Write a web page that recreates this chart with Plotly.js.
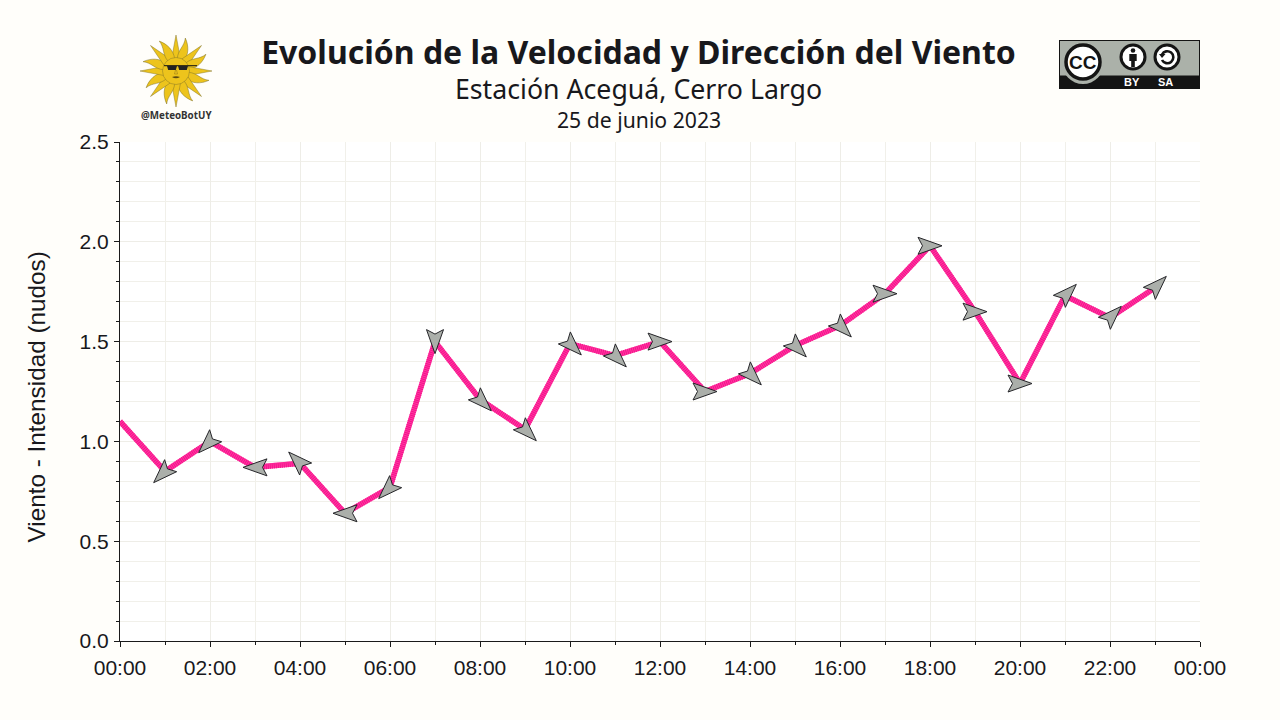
<!DOCTYPE html>
<html>
<head>
<meta charset="utf-8">
<script src="https://cdn.plot.ly/plotly-3.0.1.min.js"></script>
<style>
  html, body { margin: 0; padding: 0; background: #fffefa; }
</style>
</head>
<body>
<div id="chart" style="width:1280px;height:720px"></div>
<script>
const horas = [
    "2023-06-25 00:00", "2023-06-25 01:00", "2023-06-25 02:00", "2023-06-25 03:00",
    "2023-06-25 04:00", "2023-06-25 05:00", "2023-06-25 06:00", "2023-06-25 07:00",
    "2023-06-25 08:00", "2023-06-25 09:00", "2023-06-25 10:00", "2023-06-25 11:00",
    "2023-06-25 12:00", "2023-06-25 13:00", "2023-06-25 14:00", "2023-06-25 15:00",
    "2023-06-25 16:00", "2023-06-25 17:00", "2023-06-25 18:00", "2023-06-25 19:00",
    "2023-06-25 20:00", "2023-06-25 21:00", "2023-06-25 22:00", "2023-06-25 23:00"
]
const velocidad = [
    1.10, 0.85, 1.00, 0.87, 0.89, 0.64, 0.77, 1.50, 1.21, 1.06, 1.49, 1.43,
    1.50, 1.25, 1.34, 1.48, 1.58, 1.74, 1.98, 1.65, 1.29, 1.73, 1.62, 1.77
]
// hacia donde apunta la flecha, grados desde el norte (la primera hora no tiene flecha)
const direccion = [
    null, 225, 225, 270, 315, 270, 225, 180, 135, 135, 135, 135,
    90, 90, 135, 135, 135, 90, 90, 90, 90, 45, 45, 45
]
const rangoX = ["2023-06-25 00:00", "2023-06-26 00:00"]
const rangoY = [0, 2.5]

const PLOT = { l: 120, t: 142, w: 1080, h: 499 }
const TEXTO = "#18181c"
const FUENTE_TITULO = "Noto Sans"

function pxX(px) { return (px - PLOT.l) / PLOT.w }
function pxY(py) { return 1 - (py - PLOT.t) / PLOT.h }

// flecha con muesca, en pixeles alrededor del punto
// las diagonales van un poco corridas hacia adelante, como en el original
function pathFlecha(grados) {
    const a = grados * Math.PI / 180
    const corrimiento = Math.abs(Math.sin(2 * a)) * 4
    const forma = [[0, 12], [-8.5, -12], [0, -7.5], [8.5, -12]]
    const pts = forma.map(([lado, frente]) => {
        const f = frente + corrimiento
        const x = lado * Math.cos(a) + f * Math.sin(a)
        const y = -lado * Math.sin(a) + f * Math.cos(a)
        return x.toFixed(2) + "," + y.toFixed(2)
    })
    return "M" + pts.join("L") + "Z"
}

const flechas = []
horas.forEach((h, i) => {
    if (direccion[i] === null) return
    flechas.push({
        type: "path",
        xref: "x",
        yref: "y",
        xsizemode: "pixel",
        ysizemode: "pixel",
        xanchor: h,
        yanchor: velocidad[i],
        path: pathFlecha(direccion[i]),
        fillcolor: "#abafaa",
        line: { color: "#26262a", width: 1 },
        layer: "above",
    })
})

function svgUri(w, h, cuerpo) {
    const svg = '<svg xmlns="http://www.w3.org/2000/svg" width="' + w + '" height="' + h +
        '" viewBox="0 0 ' + w + ' ' + h + '">' + cuerpo + '</svg>'
    return "data:image/svg+xml;charset=utf-8," + encodeURIComponent(svg)
}

// sol de la bandera con lentes
function svgSol() {
    let rayos = ""
    for (let i = 0; i < 16; i++) {
        const g = i * 22.5
        if (i % 2 === 0) {
            rayos += '<path transform="rotate(' + g + ' 40 40)" d="M35.5,28 L40,4 L44.5,28 Z"/>'
        } else {
            rayos += '<path transform="rotate(' + g + ' 40 40)" d="M36.5,28 C33.5,20 38.5,14 36,6 C42.5,12 45.5,20 43.5,28 Z"/>'
        }
    }
    return '<g fill="#edc41c" stroke="#7d7028" stroke-width="0.45">' + rayos +
        '<circle cx="40" cy="40" r="13.5"/></g>' +
        '<path d="M28,34.7 H61" fill="none" stroke="#111" stroke-width="1"/>' +
        '<path d="M31,35 h10 l-1.2,4 h-7.6 z M42,35 h10 l-1.2,4 h-7.6 z" fill="#222"/>' +
        '<path d="M36,46 Q40,44.5 44,46 Q40,48.5 36,46 Z" fill="#5c4a10"/>' +
        '<path d="M39.5,39 L38.5,43 H41.5 L40.5,39" fill="none" stroke="#8a6f14" stroke-width="0.5"/>'
}

// insignia CC BY-SA, sin letras (van como anotaciones)
function svgInsignia() {
    const icono = (cx, interior) =>
        '<circle cx="' + cx + '" cy="17" r="12" fill="#fff" stroke="#141414" stroke-width="3"/>' + interior
    return '<rect x="0.5" y="0.5" width="140" height="48" fill="#abb1a9" stroke="#141414"/>' +
        '<rect x="0" y="35.5" width="141" height="13.5" fill="#141414"/>' +
        '<circle cx="24" cy="23" r="21" fill="#abb1a9"/>' +
        '<circle cx="24" cy="22" r="17" fill="#fff" stroke="#141414" stroke-width="3.5"/>' +
        icono(74, '<circle cx="74" cy="10.5" r="2.3" fill="#141414"/>' +
            '<path d="M70.3,14 H77.7 V21 H75.8 V27 H72.2 V21 H70.3 Z" fill="#141414"/>') +
        icono(108, '<path d="M103,14.5 A6,6 0 1 1 103,20" fill="none" stroke="#141414" stroke-width="2.6"/>' +
            '<path d="M100,14 L106.5,14 L103,18 Z" fill="#141414"/>')
}

function nota(px, py, texto, family, size, color, bold) {
    return {
        xref: "paper",
        yref: "paper",
        x: pxX(px),
        y: pxY(py),
        xanchor: "center",
        yanchor: "middle",
        showarrow: false,
        text: bold ? "<b>" + texto + "</b>" : texto,
        font: { family: family, size: size, color: color },
    }
}

const traces = [
    {
        type: "scatter",
        mode: "lines",
        x: horas,
        y: velocidad,
        hoverinfo: "x+y",
        line: { color: "#ff3aa0", width: 5.5 },
        showlegend: false,
    },
    {
        // rayado fino de la linea
        type: "scatter",
        mode: "lines",
        x: horas,
        y: velocidad,
        hoverinfo: "skip",
        line: { color: "#f5108c", width: 5.5, dash: "1px,1px" },
        showlegend: false,
    },
]

const layout = {
    width: 1280,
    height: 720,
    paper_bgcolor: "#fffefa",
    plot_bgcolor: "#ffffff",
    margin: { l: PLOT.l, r: 80, t: PLOT.t, b: 720 - PLOT.t - PLOT.h, pad: 0 },
    showlegend: false,
    title: {
        text: "<b>Evolución de la Velocidad y Dirección del Viento</b>",
        font: { family: FUENTE_TITULO, size: 32, color: TEXTO },
        x: 638.5 / 1280,
        xref: "container",
        xanchor: "center",
        y: 1 - 53 / 720,
        yref: "container",
        yanchor: "middle",
    },
    xaxis: {
        type: "date",
        range: rangoX,
        dtick: 7200000,
        tickformat: "%H:%M",
        ticks: "outside",
        ticklen: 5,
        tickcolor: "#1a1a1a",
        ticklabelstandoff: 3,
        tickfont: { family: "Liberation Sans", size: 21, color: TEXTO },
        showline: true,
        linecolor: "#1a1a1a",
        linewidth: 1,
        showgrid: true,
        gridcolor: "#eeede7",
        zeroline: false,
        minor: {
            dtick: 3600000,
            ticks: "outside",
            ticklen: 3,
            tickcolor: "#1a1a1a",
            showgrid: true,
            gridcolor: "#f1f0ea",
        },
    },
    yaxis: {
        range: rangoY,
        dtick: 0.5,
        tickformat: ".1f",
        ticks: "outside",
        ticklen: 5,
        tickcolor: "#1a1a1a",
        ticklabelstandoff: 1,
        tickfont: { family: "Liberation Sans", size: 21, color: TEXTO },
        showline: true,
        linecolor: "#1a1a1a",
        linewidth: 1,
        showgrid: true,
        gridcolor: "#eeede7",
        zeroline: false,
        minor: {
            dtick: 0.1,
            ticks: "outside",
            ticklen: 3,
            tickcolor: "#1a1a1a",
            showgrid: true,
            gridcolor: "#f1f0ea",
        },
    },
    shapes: flechas,
    annotations: [
        nota(638.5, 88, "Estación Aceguá, Cerro Largo", FUENTE_TITULO, 26.7, TEXTO),
        nota(639, 120, "25 de junio 2023", FUENTE_TITULO, 21.2, TEXTO),
        nota(176, 115, "@MeteoBotUY", FUENTE_TITULO, 9.8, "#333333", true),
        nota(1083, 62.5, "CC", "Liberation Sans", 19, "#141414", true),
        nota(1132, 82, "BY", "Liberation Sans", 11, "#ffffff", true),
        nota(1165.5, 82, "SA", "Liberation Sans", 11, "#ffffff", true),
        // titulo del eje y: va aparte porque no esta centrado en el eje
        Object.assign(nota(36, 397.5, "Viento - Intensidad (nudos)", "Liberation Sans", 24.3, TEXTO), { textangle: -90 }),
    ],
    images: [
        {
            source: svgUri(80, 80, svgSol()),
            xref: "paper", yref: "paper",
            x: pxX(136), y: pxY(31),
            sizex: 80 / PLOT.w, sizey: 80 / PLOT.h,
            xanchor: "left", yanchor: "top",
            sizing: "stretch",
            layer: "above",
        },
        {
            source: svgUri(141, 49, svgInsignia()),
            xref: "paper", yref: "paper",
            x: pxX(1059), y: pxY(40),
            sizex: 141 / PLOT.w, sizey: 49 / PLOT.h,
            xanchor: "left", yanchor: "top",
            sizing: "stretch",
            layer: "below",
        },
    ],
}

Plotly.newPlot(document.getElementById("chart"), traces, layout, { displayModeBar: false })
</script>
</body>
</html>
